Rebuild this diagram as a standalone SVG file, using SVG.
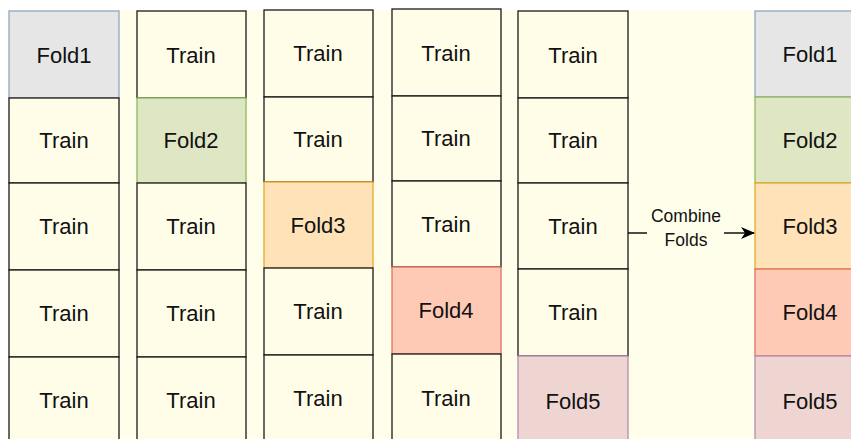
<svg xmlns="http://www.w3.org/2000/svg" width="851" height="439" viewBox="0 0 851 439">
<style>
text{font-family:"Liberation Sans",Arial,sans-serif;fill:#111;text-anchor:middle}
.c text{font-size:22px}
.t rect{fill:#FFFDE8;stroke:#1a1a1a;stroke-width:1.3}
.f1 rect{fill:#E6E6E6;stroke:#8FA6C4;stroke-width:1.3}
.f2 rect{fill:#DFE6C3;stroke:#8DBB5C;stroke-width:1.3}
.f3 rect{fill:#FFE2B8;stroke:#E6A92B;stroke-width:1.3}
.f4 rect{fill:#FFCAB5;stroke:#E07160;stroke-width:1.3}
.f5 rect{fill:#EFD5D1;stroke:#B48AB2;stroke-width:1.3}
.lbl{font-size:17.5px}
</style>
<defs>
<marker id="ah" markerWidth="14" markerHeight="12" refX="13" refY="6" orient="auto" markerUnits="userSpaceOnUse" viewBox="0 0 14 12">
<path d="M0,0 L14,6 L0,12 L4,6 Z" fill="#000"/>
</marker>
</defs>
<rect x="0" y="0" width="851" height="439" fill="#fff"/>
<rect x="9" y="10" width="842" height="429" fill="#FFFEEB"/>

<g class="c">
<!-- column 1 -->
<g id="c1r1" class="f1"><rect x="9" y="11" width="110" height="87"/><text x="64" y="63">Fold1</text></g>
<g id="c1r2" class="t"><rect x="9" y="98" width="110" height="85"/><text x="64" y="148">Train</text></g>
<g id="c1r3" class="t"><rect x="9" y="183" width="110" height="87"/><text x="64" y="234">Train</text></g>
<g id="c1r4" class="t"><rect x="9" y="270" width="110" height="87"/><text x="64" y="321">Train</text></g>
<g id="c1r5" class="t"><rect x="9" y="357" width="110" height="90"/><text x="64" y="408">Train</text></g>
<!-- column 2 -->
<g id="c2r1" class="t"><rect x="137" y="11" width="109" height="87"/><text x="191" y="63">Train</text></g>
<g id="c2r2" class="f2"><rect x="137" y="98" width="109" height="85"/><text x="191" y="148">Fold2</text></g>
<g id="c2r3" class="t"><rect x="137" y="183" width="109" height="87"/><text x="191" y="234">Train</text></g>
<g id="c2r4" class="t"><rect x="137" y="270" width="109" height="87"/><text x="191" y="321">Train</text></g>
<g id="c2r5" class="t"><rect x="137" y="357" width="109" height="90"/><text x="191" y="408">Train</text></g>
<!-- column 3 -->
<g id="c3r1" class="t"><rect x="264" y="10" width="109" height="87"/><text x="318" y="61">Train</text></g>
<g id="c3r2" class="t"><rect x="264" y="97" width="109" height="85"/><text x="318" y="147">Train</text></g>
<g id="c3r3" class="f3"><rect x="264" y="182" width="109" height="86"/><text x="318" y="233">Fold3</text></g>
<g id="c3r4" class="t"><rect x="264" y="268" width="109" height="87"/><text x="318" y="319">Train</text></g>
<g id="c3r5" class="t"><rect x="264" y="355" width="109" height="92"/><text x="318" y="406">Train</text></g>
<!-- column 4 -->
<g id="c4r1" class="t"><rect x="392" y="9" width="109" height="87"/><text x="446" y="61">Train</text></g>
<g id="c4r2" class="t"><rect x="392" y="96" width="109" height="85"/><text x="446" y="146">Train</text></g>
<g id="c4r3" class="t"><rect x="392" y="181" width="109" height="86"/><text x="446" y="232">Train</text></g>
<g id="c4r4" class="f4"><rect x="392" y="267" width="109" height="87"/><text x="446" y="318">Fold4</text></g>
<g id="c4r5" class="t"><rect x="392" y="354" width="109" height="93"/><text x="446" y="406">Train</text></g>
<!-- column 5 -->
<g id="c5r1" class="t"><rect x="518" y="11" width="110" height="87"/><text x="573" y="63">Train</text></g>
<g id="c5r2" class="t"><rect x="518" y="98" width="110" height="85"/><text x="573" y="148">Train</text></g>
<g id="c5r3" class="t"><rect x="518" y="183" width="110" height="86"/><text x="573" y="234">Train</text></g>
<g id="c5r4" class="t"><rect x="518" y="269" width="110" height="87"/><text x="573" y="320">Train</text></g>
<g id="c5r5" class="f5"><rect x="518" y="356" width="110" height="91"/><text x="573" y="409">Fold5</text></g>
<!-- combined column -->
<g id="c6r1" class="f1"><rect x="755" y="11" width="110" height="86"/><text x="810" y="62">Fold1</text></g>
<g id="c6r2" class="f2"><rect x="755" y="97" width="110" height="86"/><text x="810" y="148">Fold2</text></g>
<g id="c6r3" class="f3"><rect x="755" y="183" width="110" height="86"/><text x="810" y="234">Fold3</text></g>
<g id="c6r4" class="f4"><rect x="755" y="269" width="110" height="87"/><text x="810" y="320">Fold4</text></g>
<g id="c6r5" class="f5"><rect x="755" y="356" width="110" height="91"/><text x="810" y="409">Fold5</text></g>
</g>

<g id="connectors">
<path d="M628,233 H647" fill="none" stroke="#000" stroke-width="1.4"/>
<path d="M724,233 H754" fill="none" stroke="#000" stroke-width="1.4" marker-end="url(#ah)"/>
<text class="lbl" x="686" y="222">Combine</text>
<text class="lbl" x="686" y="246">Folds</text>
</g>
</svg>
